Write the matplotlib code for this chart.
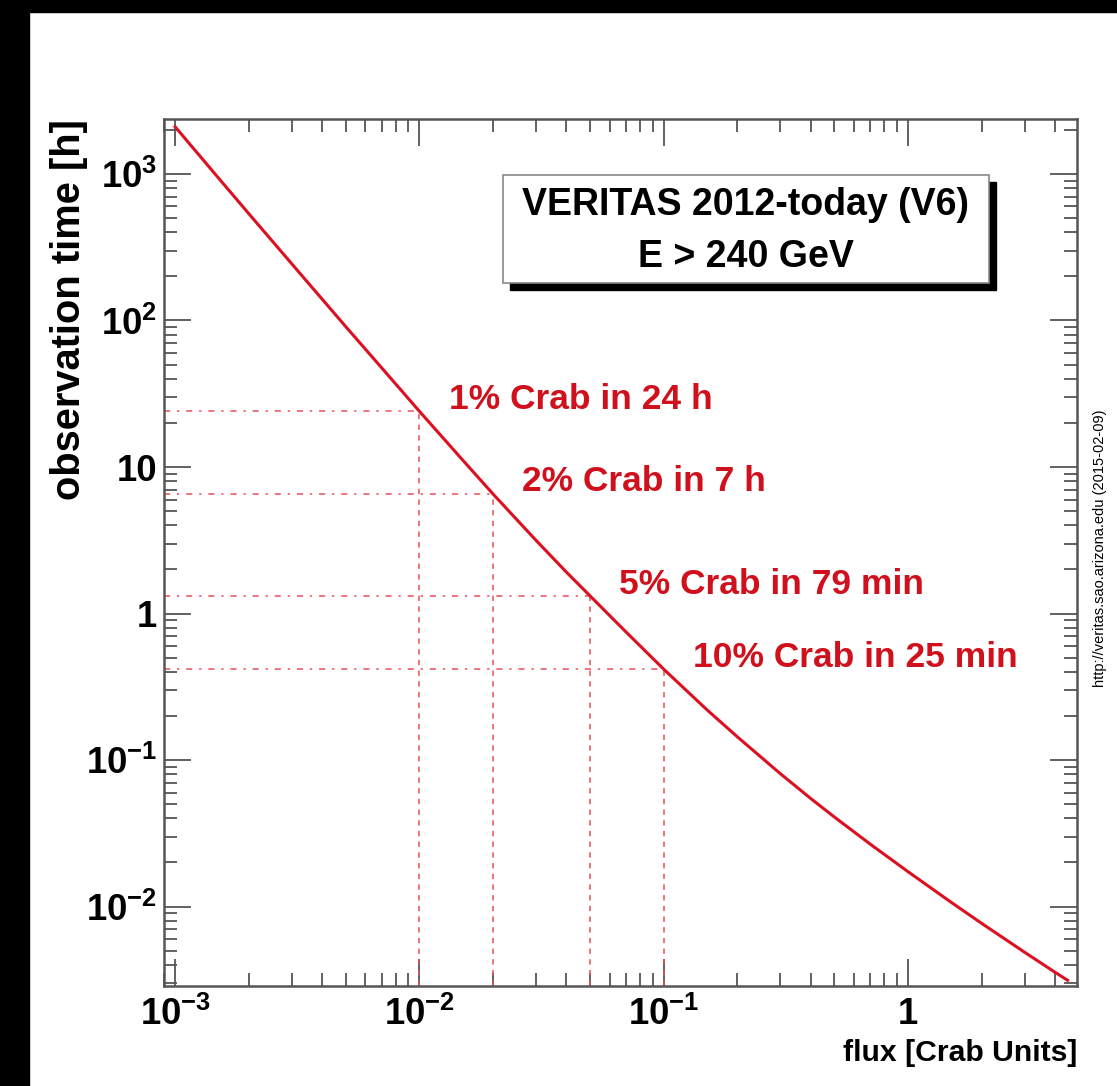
import numpy as np
import matplotlib.pyplot as plt
from matplotlib import font_manager
from matplotlib.ticker import FixedLocator, FuncFormatter, LogLocator, NullFormatter
from matplotlib.patches import Rectangle

# Кривая чувствительности VERITAS
flux = [0.001, 0.0015, 0.002, 0.003, 0.005, 0.007, 0.01, 0.015, 0.02, 0.03, 0.04, 0.05, 0.07,
        0.1, 0.15, 0.2, 0.3, 0.4, 0.5, 0.7, 1.0, 1.5, 2.0, 3.0, 4.0, 4.5]
obs_time = [2100, 944, 537, 244, 90.6, 47.6, 24, 11.2, 6.55, 3.16, 1.914, 1.317, 0.75,
            0.417, 0.221, 0.1442, 0.0808, 0.0546, 0.0408, 0.0267, 0.0173, 0.01071, 0.00769,
            0.00488, 0.00356, 0.00314]

# Отмеченные точки
mark_flux = [0.01, 0.02, 0.05, 0.1]
mark_time = [24, 6.55, 1.317, 0.417]
mark_labels = ['1% Crab in 24 h', '2% Crab in 7 h', '5% Crab in 79 min', '10% Crab in 25 min']

x_ticks = [1e-3, 1e-2, 1e-1, 1]
x_ticklabels = ['$10^{-3}$', '$10^{-2}$', '$10^{-1}$', '1']
y_ticks = [1e-2, 1e-1, 1, 10, 1e2, 1e3]
y_ticklabels = ['$10^{-2}$', '$10^{-1}$', '1', '10', '$10^{2}$', '$10^{3}$']

xlim = (9.0e-4, 4.92)
ylim = (0.00287, 2372)

# узкий шрифт для подписей осей, если есть
installed = {f.name for f in font_manager.fontManager.ttflist}
has_narrow = 'Liberation Sans Narrow' in installed
narrow = 'Liberation Sans Narrow' if has_narrow else 'Liberation Sans'
k = 1.0 if has_narrow else 0.82

plt.rcParams['font.family'] = ['Liberation Sans', 'DejaVu Sans']
plt.rcParams['font.weight'] = 'bold'
plt.rcParams['mathtext.fontset'] = 'custom'
plt.rcParams['mathtext.rm'] = narrow + ':bold'
plt.rcParams['mathtext.bf'] = narrow + ':bold'
plt.rcParams['mathtext.default'] = 'rm'

red = '#dc1020'
red_text = '#d0101c'
red_guide = '#e8505a'
frame = '#555555'

fig = plt.figure(figsize=(11.17, 10.86), dpi=100)
fig.patch.set_facecolor('white')

# чёрные поля скриншота
fig.patches.append(Rectangle((0, 0), 29 / 1117, 1, transform=fig.transFigure, color='black', zorder=0))
fig.patches.append(Rectangle((0, 1 - 12 / 1086), 1, 12 / 1086, transform=fig.transFigure, color='black', zorder=0))

ax = fig.add_axes([0.1468, 0.0921, 0.8174, 0.7983])
ax.set_xscale('log')
ax.set_yscale('log')
ax.set_xlim(*xlim)
ax.set_ylim(*ylim)

ax.plot(flux, obs_time, color=red, lw=2.2, zorder=3)

for f, t in zip(mark_flux, mark_time):
    ax.plot([xlim[0], f], [t, t], color=red_guide, lw=1.1, dashes=(4, 4.5, 1.5, 4.5), zorder=2)
    ax.plot([f, f], [ylim[0], t], color=red_guide, lw=1.1, dashes=(3.5, 3.5), zorder=2)

for f, t, lab in zip(mark_flux, mark_time, mark_labels):
    ax.annotate(lab, (f, t), xytext=(21, 8.6), textcoords='offset points',
                ha='left', va='center', color=red_text, fontsize=25.5, fontweight='bold')

ax.xaxis.set_major_locator(FixedLocator(x_ticks))
ax.xaxis.set_major_formatter(FuncFormatter(lambda v, p: x_ticklabels[x_ticks.index(v)] if v in x_ticks else ''))
ax.yaxis.set_major_locator(FixedLocator(y_ticks))
ax.yaxis.set_major_formatter(FuncFormatter(lambda v, p: y_ticklabels[y_ticks.index(v)] if v in y_ticks else ''))
ax.xaxis.set_minor_locator(LogLocator(base=10, subs=np.arange(2, 10), numticks=20))
ax.yaxis.set_minor_locator(LogLocator(base=10, subs=np.arange(2, 10), numticks=20))
ax.xaxis.set_minor_formatter(NullFormatter())
ax.yaxis.set_minor_formatter(NullFormatter())

ax.tick_params(which='both', direction='in', top=True, right=True, color=frame, width=1.3)
ax.tick_params(which='major', length=19.5, labelsize=32 * k)
ax.tick_params(axis='x', which='major', pad=8)
ax.tick_params(axis='y', which='major', pad=5)
ax.tick_params(which='minor', length=9.5)
for lbl in ax.get_xticklabels() + ax.get_yticklabels():
    lbl.set_family([narrow, 'DejaVu Sans'])
for s in ax.spines.values():
    s.set_color(frame)
    s.set_linewidth(1.8)

ax.set_xlabel('flux [Crab Units]', fontsize=26.5 * k, fontweight='bold', loc='right',
              family=[narrow, 'DejaVu Sans'])
ax.xaxis.set_label_coords(1.0, -0.061)
ax.set_ylabel('observation time [h]', fontsize=35 * k, fontweight='bold', loc='top',
              family=[narrow, 'DejaVu Sans'])
ax.yaxis.set_label_coords(-0.083, 1.0)

# рамка с подписью и тенью
fig.patches.append(Rectangle((510 / 1117, 1 - 290 / 1086), 486 / 1117, 108 / 1086,
                             transform=fig.transFigure, color='black', zorder=5))
fig.patches.append(Rectangle((503 / 1117, 1 - 283 / 1086), 486 / 1117, 108 / 1086,
                             transform=fig.transFigure, facecolor='white', edgecolor='#888888',
                             lw=1.2, zorder=6))
fig.text(746 / 1117, 1 - 205 / 1086, 'VERITAS 2012-today (V6)', ha='center', va='center',
         fontsize=27, fontweight='bold', zorder=7)
fig.text(746 / 1117, 1 - 257 / 1086, 'E > 240 GeV', ha='center', va='center',
         fontsize=27, fontweight='bold', zorder=7)

fig.text(1100 / 1117, 1 - 548 / 1086, 'http://veritas.sao.arizona.edu (2015-02-09)', rotation=90,
         ha='center', va='center', fontsize=10.5, fontweight='normal')

plt.savefig('out.png', dpi=100)
